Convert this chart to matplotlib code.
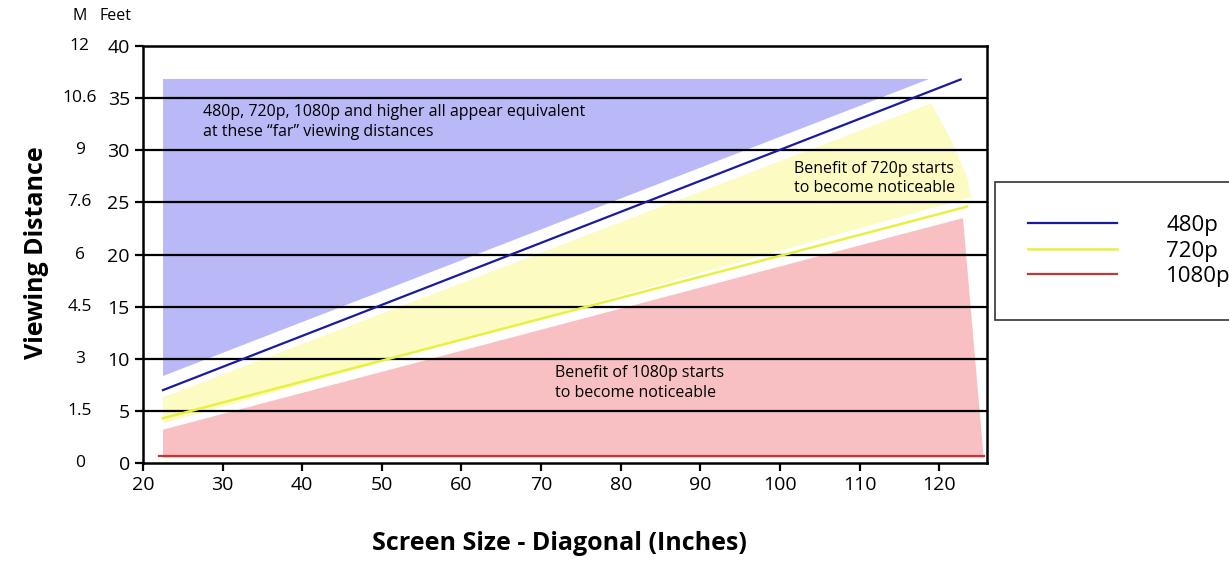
import matplotlib
matplotlib.use("Agg")
import matplotlib.pyplot as plt
from matplotlib.lines import Line2D
import matplotlib.transforms as mt

plt.rcParams['font.family'] = ['Open Sans', 'DejaVu Sans']

feet_ticks = [0, 5, 10, 15, 20, 25, 30, 35, 40]
m_labels = ['0', '1.5', '3', '4.5', '6', '7.6', '9', '10.6', '12']
x_ticks = [20, 30, 40, 50, 60, 70, 80, 90, 100, 110, 120]

# Region polygons (screen size, feet)
blue_x = [22.5, 22.5, 118.7, 22.5]
blue_y = [8.4, 36.8, 36.8, 8.4]
yellow_x = [22.5, 119.0, 121.5, 123.5, 124.0, 22.5]
yellow_y = [6.3, 34.5, 31.0, 27.5, 25.5, 3.8]
red_x = [22.5, 123.0, 125.6, 22.5]
red_y = [3.2, 23.5, 0.5, 0.5]

line480_x = [22.5, 122.7]; line480_y = [7.0, 36.8]
line720_x = [22.5, 123.5]; line720_y = [4.3, 24.6]
line1080_x = [22.0, 125.6]; line1080_y = [0.7, 0.7]

fig = plt.figure(figsize=(12.29, 5.62), dpi=100)
ax = fig.add_axes([0.1164, 0.176, 0.803 - 0.1164, 0.918 - 0.176])

ax.fill(blue_x, blue_y, color='#b9b9f7', lw=0, zorder=1)
ax.fill(yellow_x, yellow_y, color='#fbfbc2', lw=0, zorder=1)
ax.fill(red_x, red_y, color='#f8c0c2', lw=0, zorder=1)

for v in feet_ticks[1:-1]:
    ax.axhline(v, color='black', lw=1.6, zorder=2)

ax.plot(line480_x, line480_y, color='#1a1aa0', lw=1.6, zorder=3)
ax.plot(line720_x, line720_y, color='#e8f040', lw=1.8, zorder=3)
ax.plot(line1080_x, line1080_y, color='#c03838', lw=1.6, zorder=3)

ax.set_xlim(20, 126)
ax.set_ylim(0, 40)
ax.set_xticks(x_ticks)
ax.set_yticks(feet_ticks)
ax.set_yticklabels([str(v) for v in feet_ticks])
ax.tick_params(labelsize=14, width=1.6, length=6, direction='out')
for s in ax.spines.values():
    s.set_linewidth(1.8)

trans = mt.blended_transform_factory(fig.transFigure, ax.transData)
for v, m in zip(feet_ticks, m_labels):
    ax.text(0.065, v, m, transform=trans, ha='center', va='center', fontsize=12.5)
fig.text(0.065, 0.972, 'M', ha='center', va='center', fontsize=11.5)
fig.text(0.094, 0.972, 'Feet', ha='center', va='center', fontsize=11.5)

fig.text(0.03, 0.55, 'Viewing Distance', rotation=90, ha='center', va='center',
         fontsize=18, fontweight='bold')
fig.text(0.455, 0.033, 'Screen Size - Diagonal (Inches)', ha='center', va='center',
         fontsize=18, fontweight='bold')

ax.text(27.5, 34.4, '480p, 720p, 1080p and higher all appear equivalent\nat these \u201cfar\u201d viewing distances',
        fontsize=11.5, va='top', ha='left', zorder=4, linespacing=1.3)
ax.text(101.8, 29.0, 'Benefit of 720p starts\nto become noticeable',
        fontsize=11.5, va='top', ha='left', zorder=4, linespacing=1.3)
ax.text(71.8, 9.4, 'Benefit of 1080p starts\nto become noticeable',
        fontsize=11.5, va='top', ha='left', zorder=4, linespacing=1.3)

handles = [Line2D([], [], color='#1a1aa0', lw=1.6),
           Line2D([], [], color='#e8f040', lw=1.8),
           Line2D([], [], color='#c03838', lw=1.6)]
leg = fig.legend(handles, ['480p', '720p', '1080p'], loc='center',
                 bbox_to_anchor=(0.919, 0.553), fontsize=16, frameon=True,
                 fancybox=False, edgecolor='black', handlelength=4.0,
                 borderpad=1.5, labelspacing=0.2, handletextpad=2.2)
leg.get_frame().set_linewidth(1.2)

fig.savefig('out.png', dpi=100)
